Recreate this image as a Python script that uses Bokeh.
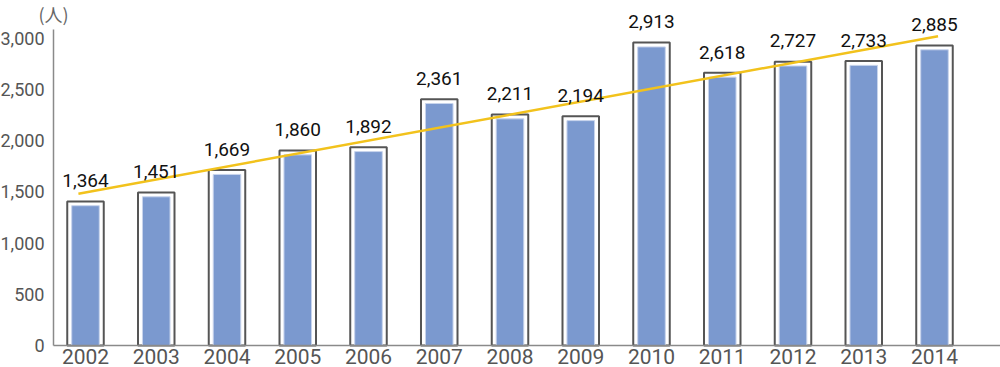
from bokeh.plotting import figure
from bokeh.models import ColumnDataSource, FixedTicker, NumeralTickFormatter, Label, Range1d
from bokeh.core.properties import value
from bokeh.embed import file_html
from bokeh.resources import INLINE

# ---- data ----
years = [2002, 2003, 2004, 2005, 2006, 2007, 2008, 2009, 2010, 2011, 2012, 2013, 2014]
counts = [1364, 1451, 1669, 1860, 1892, 2361, 2211, 2194, 2913, 2618, 2727, 2733, 2885]
y_ticks = [0, 500, 1000, 1500, 2000, 2500, 3000]
trend_years = [2001.9, 2014.05]
trend_counts = [1480, 3018]
unit_text = "(人)"

NUM_FONT = "Roboto"
CJK_FONT = "Noto Sans CJK JP"
W, H = 1000, 367
px_per_unit = 0.1025            # vertical scale, px per person
px_per_year = 70.75
zero_y = 345                     # pixel row of value 0
first_bar_x = 85                 # pixel column of the first bar centre
axis_x_px = 53                   # pixel column of the value axis
axis_top_px = 29

x_start = years[0] - first_bar_x / px_per_year
x_end = x_start + W / px_per_year
y_end = zero_y / px_per_unit
y_start = -(H - zero_y) / px_per_unit
axis_x = x_start + axis_x_px / px_per_year
axis_top = (zero_y - axis_top_px) / px_per_unit

src = ColumnDataSource(dict(
    year=years,
    count=counts,
    box_top=[c + 42 for c in counts],
    label=[f"{c:,}" for c in counts],
))

p = figure(width=W, height=H, output_backend="svg", toolbar_location=None,
           x_range=Range1d(x_start, x_end), y_range=Range1d(y_start, y_end),
           min_border_left=0, min_border_right=0, min_border_top=0,
           min_border_bottom=0)
p.outline_line_color = None
p.xgrid.grid_line_color = None
p.ygrid.grid_line_color = None
p.background_fill_color = "white"
p.border_fill_color = "white"

# outline boxes
p.vbar(x="year", top="box_top", bottom=0, width=0.516, source=src,
       fill_color="white", line_color="#555555", line_width=2)
# blue bars
p.vbar(x="year", top="count", bottom=0, width=0.39, source=src,
       fill_color="#7b99cf", line_color="#c8d4ec", line_width=1)
# trend line
p.line(trend_years, trend_counts, line_color="#f2c21c", line_width=2.5)
# value labels
p.text(x="year", y="count", text="label", source=src,
       text_align="center", text_baseline="alphabetic", y_offset=-25,
       text_font=value(NUM_FONT), text_font_size="19px", text_color="#111111")

# x axis (fixed at zero, inside the frame)
xax = p.xaxis[0]
xax.fixed_location = 0
xax.bounds = (axis_x, x_end)
xax.ticker = FixedTicker(ticks=years)
xax.major_label_overrides = {y: str(y) for y in years}
xax.axis_line_color = "#8a8a8a"
xax.axis_line_width = 1.5
xax.major_tick_line_color = None
xax.minor_tick_line_color = None
xax.major_label_standoff = -3
xax.major_label_text_font = NUM_FONT
xax.major_label_text_font_size = "21px"
xax.major_label_text_color = "#555555"

# y axis (fixed position, inside the frame)
yax = p.yaxis[0]
yax.fixed_location = axis_x
yax.ticker = FixedTicker(ticks=y_ticks)
yax.formatter = NumeralTickFormatter(format="0,0")
yax.bounds = (0, axis_top)
yax.axis_line_color = "#8a8a8a"
yax.axis_line_width = 1.5
yax.major_tick_line_color = None
yax.minor_tick_line_color = None
yax.major_label_standoff = 3
yax.major_label_text_font = NUM_FONT
yax.major_label_text_font_size = "18px"
yax.major_label_text_color = "#555555"

p.add_layout(Label(x=axis_x, y=y_end, text=unit_text, text_align="center",
                   text_baseline="top", text_font=CJK_FONT, text_font_size="18px",
                   text_color="#666666"))

open("out.html", "w").write(file_html(p, INLINE))
